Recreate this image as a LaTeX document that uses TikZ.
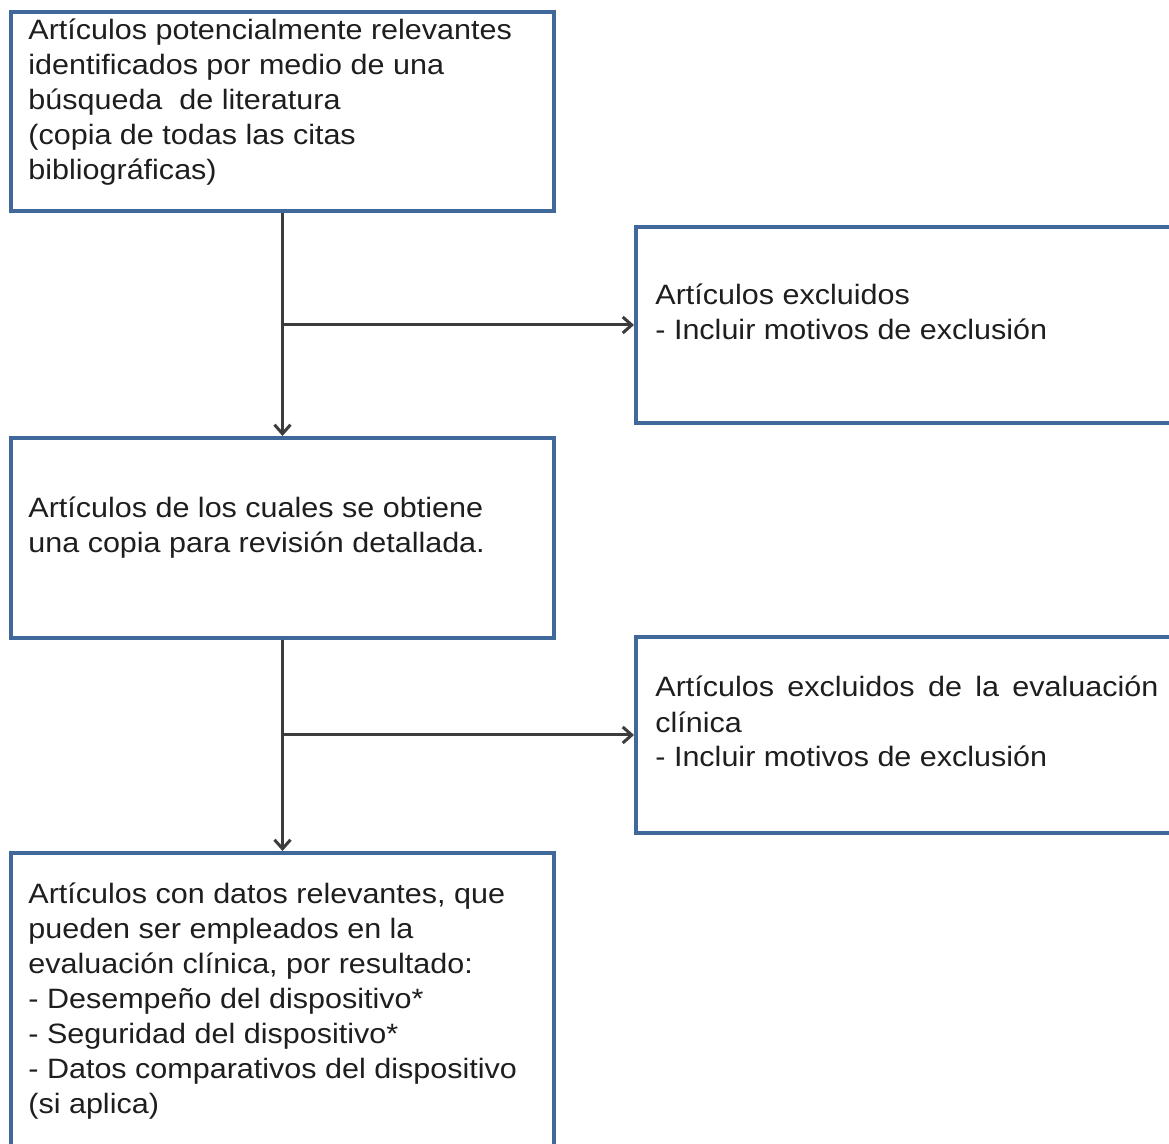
\documentclass[tikz,border=0pt]{standalone}
\usepackage{fontspec}
\setmainfont{Liberation Sans}[FakeStretch=1.09]
\usetikzlibrary{arrows.meta}
\definecolor{boxblue}{HTML}{41689A}
\definecolor{conngray}{HTML}{3C3C3C}
\definecolor{txtgray}{HTML}{1E1E1E}
\begin{document}
\begin{tikzpicture}[x=0.5pt,y=-0.5pt,
  box/.style={draw=boxblue,line width=2pt,rectangle,anchor=north west,inner sep=0pt,fill=white},
  lbl/.style={anchor=base west,inner sep=0pt,align=left,text=txtgray,
    font=\fontsize{14pt}{17.5pt}\selectfont},
  conn/.style={draw=conngray,line width=1.5pt,-{Straight Barb[length=4.5pt,width=8pt,line width=1.5pt]}}]
\useasboundingbox (0,0) rectangle (1169,1144);
\clip (0,0) rectangle (1169,1144);
\fill[white] (0,0) rectangle (1169,1144);
% boxes
\node[box,minimum width=271.5pt,minimum height=99.5pt] (b1) at (9,10) {};
\node[box,minimum width=283pt,minimum height=98pt] (b2) at (634,225) {};
\node[box,minimum width=271.5pt,minimum height=100pt] (b3) at (9,436) {};
\node[box,minimum width=283pt,minimum height=98pt] (b4) at (634,635) {};
\node[box,minimum width=271.5pt,minimum height=175pt] (b5) at (9,851) {};
% texts (anchored at the baseline of the last line)
\node[lbl] (t1) at (28,180) {Artículos potencialmente relevantes\\identificados por medio de una\\búsqueda\ \ de literatura\\(copia de todas las citas\\bibliográficas)};
\node[lbl] (t2) at (655,340) {Artículos excluidos\\- Incluir motivos de exclusión};
\node[lbl] (t3) at (28,553) {Artículos de los cuales se obtiene\\una copia para revisión detallada.};
\node[lbl] (t4) at (655,767) {\makebox[251.5pt][s]{Artículos excluidos de la evaluación}\\clínica\\- Incluir motivos de exclusión};
\node[lbl] (t5) at (28,1113) {Artículos con datos relevantes, que\\pueden ser empleados en la\\evaluación clínica, por resultado:\\- Desempeño del dispositivo*\\- Seguridad del dispositivo*\\- Datos comparativos del dispositivo\\(si aplica)};
% connectors
\coordinate (j1) at (b1.south |- b2.west);
\coordinate (j2) at (b3.south |- b4.west);
\draw[conn] (b1.south) -- (b3.north);
\draw[conn] (j1) -- (b2.west);
\draw[conn] (b3.south) -- (b5.north);
\draw[conn] (j2) -- (b4.west);
\end{tikzpicture}
\end{document}
